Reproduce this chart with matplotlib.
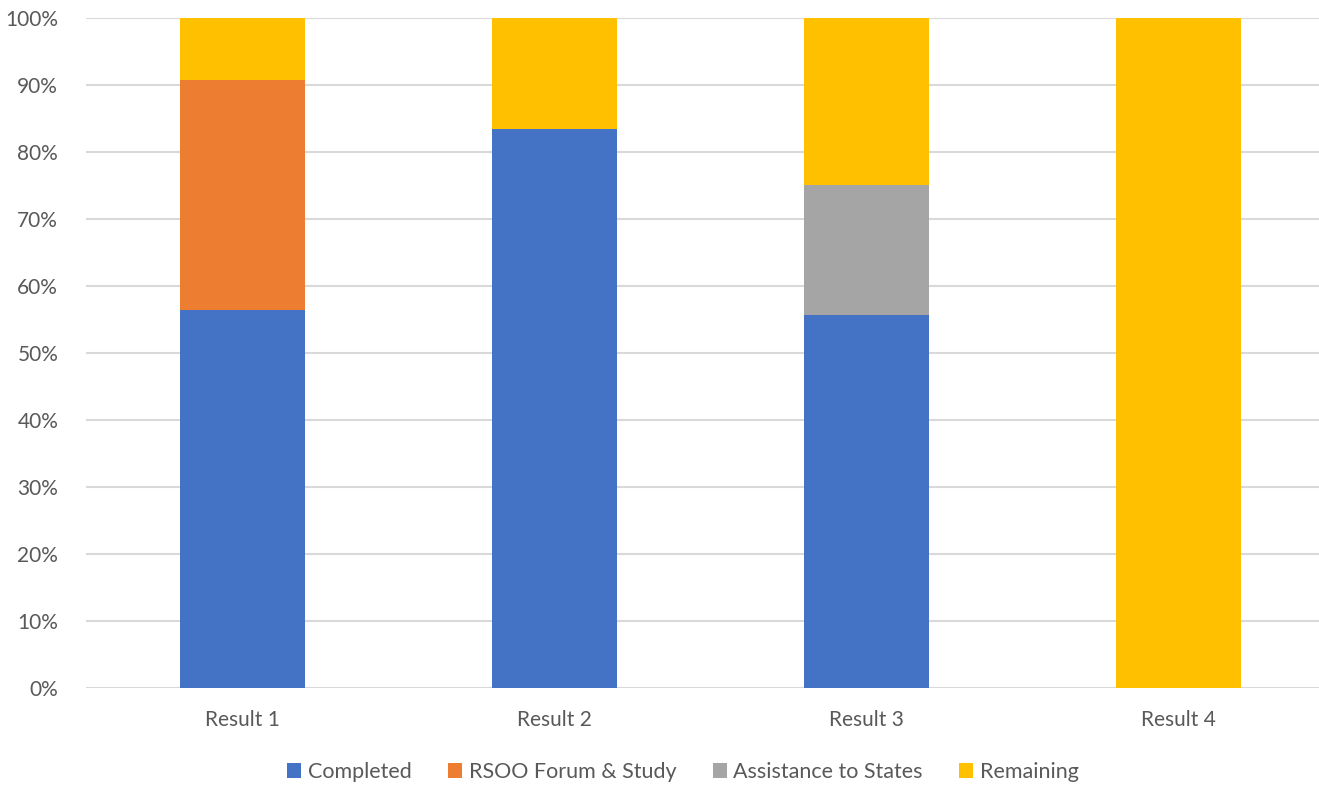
import matplotlib
matplotlib.use("Agg")
import matplotlib.pyplot as plt
from matplotlib.patches import Patch
import numpy as np

categories = ["Result 1", "Result 2", "Result 3", "Result 4"]
completed = [56.4, 83.4, 55.7, 0.0]
rsoo = [34.4, 0.0, 0.0, 0.0]
assistance = [0.0, 0.0, 19.4, 0.0]
remaining = [9.2, 16.6, 24.9, 100.0]
series_names = ["Completed", "RSOO Forum & Study", "Assistance to States", "Remaining"]
colors = ["#4472C4", "#ED7D31", "#A5A5A5", "#FFC000"]
yticks = [0, 10, 20, 30, 40, 50, 60, 70, 80, 90, 100]

plt.rcParams['font.family'] = ['Lato', 'DejaVu Sans']

W, H = 1319, 785
fig = plt.figure(figsize=(W / 100, H / 100), dpi=100)
left, right = 86, 1319
top, bottom = 18, 688
ax = fig.add_axes([left / W, 1 - bottom / H, (right - left) / W, (bottom - top) / H])

x = np.arange(len(categories))
bw = 0.4
base = np.zeros(len(categories))
for vals, c in zip([completed, rsoo, assistance, remaining], colors):
    v = np.array(vals)
    ax.bar(x, v, bw, bottom=base, color=c, zorder=3, linewidth=0)
    base += v

ax.set_ylim(0, 100)
ax.set_xlim(-0.5, 3.5 - (1335 - 1319) / 312.5)
ax.set_yticks(yticks)
ax.set_yticklabels([f"{t}%" for t in yticks])
ax.set_xticks(x)
ax.set_xticklabels(categories)
ax.tick_params(axis='both', length=0, labelsize=15, colors="#595959")
ax.tick_params(axis='y', pad=20)
ax.tick_params(axis='x', pad=16)
ax.grid(axis='y', color="#D9D9D9", linewidth=1.5, zorder=0)
for s in ax.spines.values():
    s.set_visible(False)
ax.set_axisbelow(True)

handles = [Patch(facecolor=c, edgecolor='none') for c in colors]
fig.legend(handles, series_names, loc='center', bbox_to_anchor=(683 / W, 1 - 772 / H),
           ncol=4, frameon=False, fontsize=15.5, labelcolor="#595959",
           handlelength=0.65, handleheight=0.65, handletextpad=0.3, columnspacing=1.7)

fig.savefig("out.png", dpi=100, facecolor="white")
